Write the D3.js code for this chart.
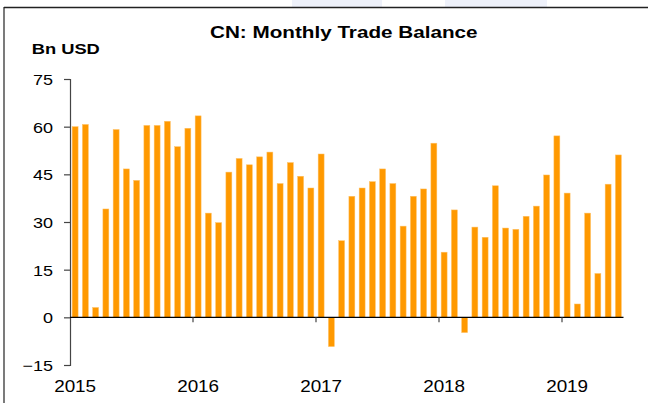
<!DOCTYPE html>
<html>
<head>
<meta charset="utf-8">
<script src="https://cdn.jsdelivr.net/npm/d3@7"></script>
<style>
  html, body { margin: 0; padding: 0; background: #fff; }
  svg { display: block; }
  text { font-family: "Liberation Sans", Arial, sans-serif; fill: #000; }
</style>
</head>
<body>
<svg id="chart" width="648" height="403"></svg>
<script>
// ---- data ----
const title = "CN: Monthly Trade Balance";
const unitLabel = "Bn USD";
const yTicks = [-15, 0, 15, 30, 45, 60, 75];
const yearLabels = ["2015", "2016", "2017", "2018", "2019"];
const months = d3.timeMonths(new Date(2015, 0, 1), new Date(2019, 6, 1));
const balance = [
  60.0, 60.7, 3.1, 34.1, 59.1, 46.7, 43.1, 60.4, 60.4, 61.7, 53.7, 59.5,
  63.4, 32.8, 29.8, 45.7, 50.0, 48.0, 50.5, 52.0, 42.1, 48.7, 44.4, 40.7,
  51.4, -9.2, 24.1, 38.1, 40.7, 42.7, 46.7, 42.1, 28.7, 38.1, 40.4, 54.8,
  20.5, 33.8, -4.8, 28.4, 25.2, 41.4, 28.1, 27.7, 31.8, 35.0, 44.8, 57.1,
  39.1, 4.2, 32.8, 13.8, 41.9, 51.1
];
const data = months.map((m, i) => ({ month: m, value: balance[i] }));

// ---- layout ----
const svg = d3.select("#chart");
const x0 = 70, x1 = 623.5, yTop = 79, yBot = 365;
const sx = 1.2; // horizontal stretch of the source image's lettering

// faint background patches above frame
svg.append("rect").attr("x", 292).attr("y", 0).attr("width", 90).attr("height", 7).attr("fill", "#eef1fa");
svg.append("rect").attr("x", 445).attr("y", 0).attr("width", 102).attr("height", 7).attr("fill", "#eef1fa");

// frame
svg.append("line").attr("x1", 4).attr("x2", 648).attr("y1", 7.5).attr("y2", 7.5)
  .attr("stroke", "#222").attr("stroke-width", 1.5);
svg.append("line").attr("x1", 4).attr("x2", 4).attr("y1", 7).attr("y2", 403)
  .attr("stroke", "#222").attr("stroke-width", 1.2);

const x = d3.scaleBand()
  .domain(months.map(d => +d))
  .range([x0, x1])
  .paddingInner(0.42)
  .paddingOuter(0.21);
const y = d3.scaleLinear().domain([-15, 75]).range([yBot, yTop]);

// bars
svg.append("g").selectAll("rect").data(data).join("rect")
  .attr("x", d => x(+d.month))
  .attr("width", x.bandwidth())
  .attr("y", d => y(Math.max(0, d.value)))
  .attr("height", d => Math.abs(y(d.value) - y(0)))
  .attr("fill", "#ff9900")
  .attr("stroke", "#ffc266")
  .attr("stroke-width", 0.5);

// y axis
const yAxis = svg.append("g")
  .attr("transform", `translate(${x0},0)`)
  .call(d3.axisLeft(y).tickValues(yTicks).tickSize(6).tickPadding(0).tickFormat(d3.format("d")));
yAxis.select(".domain").attr("stroke", "#444").attr("stroke-width", 1.2);
yAxis.selectAll(".tick line").attr("stroke", "#444").attr("stroke-width", 1.2);
yAxis.selectAll(".tick text")
  .attr("font-family", "Liberation Sans, Arial, sans-serif")
  .attr("font-size", 15)
  .attr("fill", "#000")
  .attr("text-anchor", "end")
  .attr("x", -17 / sx)
  .attr("dy", "0.36em")
  .attr("transform", `scale(${sx},1)`);

// zero line
svg.append("line")
  .attr("x1", x0).attr("x2", x1)
  .attr("y1", y(0)).attr("y2", y(0))
  .attr("stroke", "#000").attr("stroke-width", 1.3);

// year ticks and labels
const step = x.step();
const gap = (step - x.bandwidth()) / 2;
const jan = yearLabels.map(yr => new Date(+yr, 0, 1));
svg.append("g").selectAll("line").data(jan.slice(1)).join("line")
  .attr("x1", d => x(+d) - gap).attr("x2", d => x(+d) - gap)
  .attr("y1", y(0)).attr("y2", y(0) + 5)
  .attr("stroke", "#444").attr("stroke-width", 1.2);

svg.append("g").selectAll("text").data(yearLabels).join("text")
  .attr("transform", (d, i) => `translate(${x(+jan[i]) + x.bandwidth() / 2},391.5) scale(1.18,1)`)
  .attr("text-anchor", "middle")
  .attr("font-size", 16)
  .text(d => d);

// title and unit
svg.append("text")
  .attr("x", 210).attr("y", 38.3)
  .attr("font-size", 16.2).attr("font-weight", "bold")
  .attr("textLength", 267.5).attr("lengthAdjust", "spacingAndGlyphs")
  .text(title);

svg.append("text")
  .attr("transform", `translate(31.7,54.3) scale(1.19,1)`)
  .attr("font-size", 15.4).attr("font-weight", "bold")
  .text(unitLabel);
</script>
</body>
</html>
